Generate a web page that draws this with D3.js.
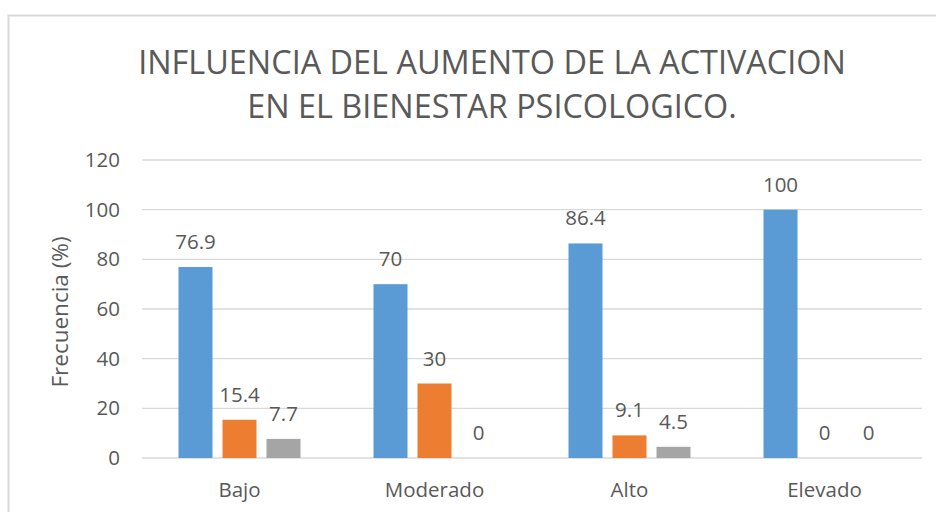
<!DOCTYPE html>
<html>
<head>
<meta charset="utf-8">
<script src="https://cdn.jsdelivr.net/npm/d3@7"></script>
<style>
  body { margin: 0; background: #fff; }
  text { font-family: "Open Sans", sans-serif; fill: #595959; }
</style>
</head>
<body>
<script>
const WIDTH = 936;
const HEIGHT = 512;

const categories = ["Bajo", "Moderado", "Alto", "Elevado"];
const series = ["Serie 1", "Serie 2", "Serie 3"];
const colors = ["#5B9BD5", "#ED7D31", "#A5A5A5"];
// values[series][category]
const values = [
    [76.9, 70, 86.4, 100],
    [15.4, 30, 9.1, 0],
    [7.7, 0, 4.5, 0]
];
const yTicks = [0, 20, 40, 60, 80, 100, 120];
const titleLines = ["INFLUENCIA DEL AUMENTO DE LA ACTIVACION", "EN EL BIENESTAR PSICOLOGICO."];

const plot = { left: 142, right: 922, top: 160, bottom: 458 };
const BAR_WIDTH = 34;
const BAR_STEP = 44;

const svg = d3.select("body").append("svg")
    .attr("width", WIDTH)
    .attr("height", HEIGHT);

// chart border (right and bottom edges fall outside the picture)
svg.append("rect")
    .attr("x", 8.5).attr("y", 15.5)
    .attr("width", WIDTH + 20).attr("height", HEIGHT + 20)
    .attr("fill", "none")
    .attr("stroke", "#D9D9D9")
    .attr("stroke-width", 2);

const x = d3.scaleBand()
    .domain(categories)
    .range([plot.left, plot.right]);

const y = d3.scaleLinear()
    .domain([0, 120])
    .range([plot.bottom, plot.top]);

// gridlines
svg.append("g")
    .selectAll("line")
    .data(yTicks)
    .join("line")
    .attr("x1", plot.left).attr("x2", plot.right)
    .attr("y1", d => y(d)).attr("y2", d => y(d))
    .attr("stroke", "#D9D9D9")
    .attr("stroke-width", 1.3);

// y tick labels
svg.append("g")
    .selectAll("text")
    .data(yTicks)
    .join("text")
    .attr("x", 120)
    .attr("y", d => y(d) + 7)
    .attr("text-anchor", "end")
    .attr("font-size", 20.5)
    .text(d => d);

// bars
const barX = (ci, si) => x(categories[ci]) + x.bandwidth() / 2 + (si - 1) * BAR_STEP - BAR_WIDTH / 2;

series.forEach((s, si) => {
    const g = svg.append("g");
    g.selectAll("rect")
        .data(values[si])
        .join("rect")
        .attr("x", (d, ci) => barX(ci, si))
        .attr("y", d => y(d))
        .attr("width", BAR_WIDTH)
        .attr("height", d => y(0) - y(d))
        .attr("fill", colors[si]);

    g.selectAll("text")
        .data(values[si])
        .join("text")
        .attr("x", (d, ci) => barX(ci, si) + BAR_WIDTH / 2)
        .attr("y", d => y(d) - 18)
        .attr("text-anchor", "middle")
        .attr("font-size", 20.5)
        .text(d => d);
});

// category labels
svg.append("g")
    .selectAll("text")
    .data(categories)
    .join("text")
    .attr("x", d => x(d) + x.bandwidth() / 2)
    .attr("y", 497)
    .attr("text-anchor", "middle")
    .attr("font-size", 20.5)
    .text(d => d);

// y axis title
svg.append("text")
    .attr("transform", "translate(68,312) rotate(-90)")
    .attr("text-anchor", "middle")
    .attr("font-size", 22.5)
    .text("Frecuencia (%)");

// title
svg.append("g")
    .selectAll("text")
    .data(titleLines)
    .join("text")
    .attr("x", 492)
    .attr("y", (d, i) => 74 + i * 44)
    .attr("text-anchor", "middle")
    .attr("font-size", 32.4)
    .text(d => d);
</script>
</body>
</html>
